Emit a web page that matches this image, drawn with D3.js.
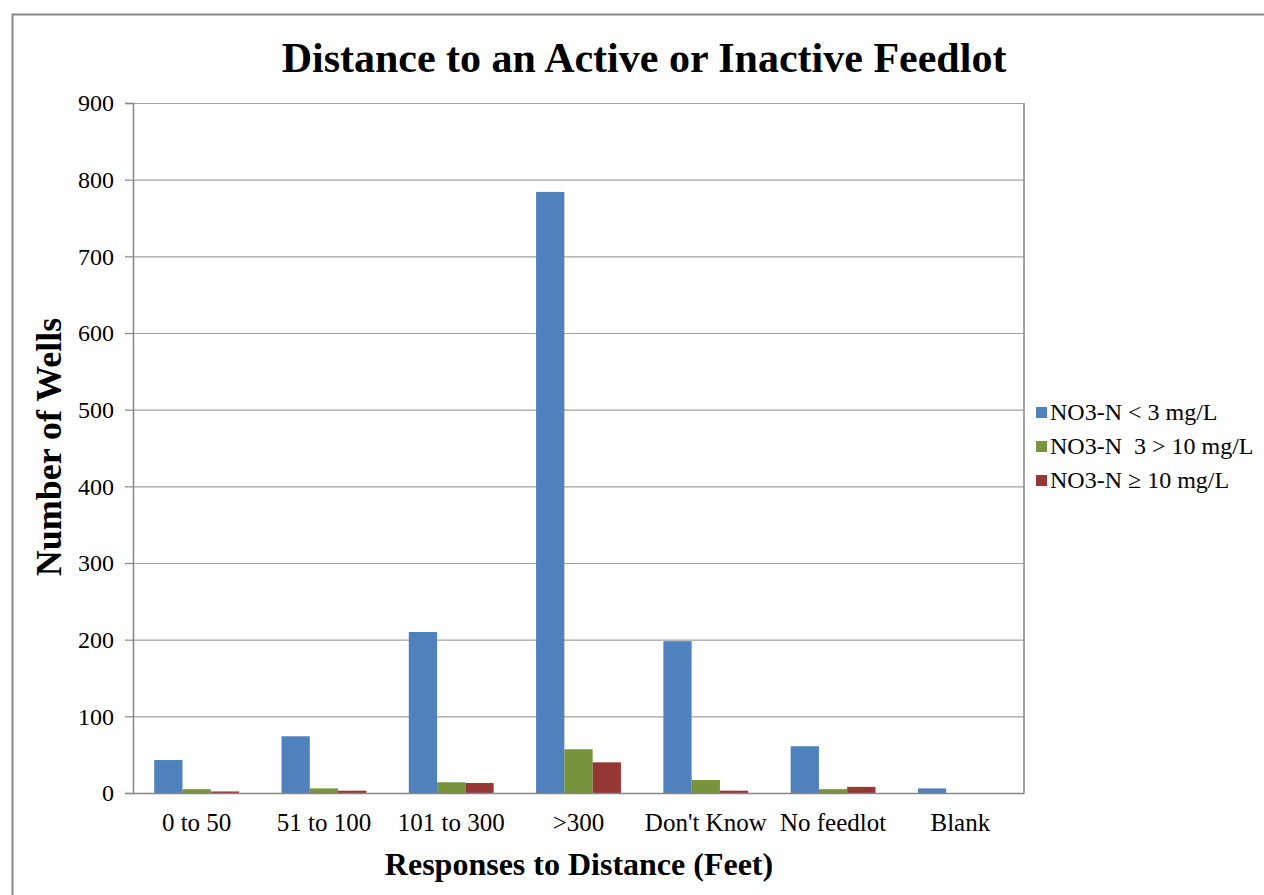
<!DOCTYPE html>
<html>
<head>
<meta charset="utf-8">
<script src="https://cdn.jsdelivr.net/npm/d3@7"></script>
<style>
  body { margin: 0; background: #fff; }
  text { font-family: "Liberation Serif", "Times New Roman", serif; }
</style>
</head>
<body>
<div id="chart"></div>
<script>
var categories = ["0 to 50", "51 to 100", "101 to 300", ">300", "Don't Know", "No feedlot", "Blank"];
var seriesNames = ["NO3-N < 3 mg/L", "NO3-N  3 > 10 mg/L", "NO3-N \u2265 10 mg/L"];
var low = [43, 74, 210, 784, 198, 61, 6];
var mid = [5, 6, 14, 57, 17, 5, 0];
var high = [2, 3, 13, 40, 3, 8, 0];
var yTicks = [0, 100, 200, 300, 400, 500, 600, 700, 800, 900];

var colors = ["#4F81BD", "#77933C", "#953735"];
var seriesVals = [low, mid, high];

var w = 1264, h = 895;
var plotLeft = 133, plotRight = 1024, plotTop = 103, plotBottom = 793;

var svg = d3.select("#chart").append("svg")
    .attr("width", w)
    .attr("height", h);

// outer chart border
svg.append("rect")
    .attr("x", 12.5).attr("y", 14.5)
    .attr("width", 1270).attr("height", 900)
    .attr("fill", "#fff")
    .attr("stroke", "#868686")
    .attr("stroke-width", 2);

var x = d3.scaleBand()
    .domain(categories)
    .range([plotLeft, plotRight]);

var yScale = d3.scaleLinear()
    .domain([0, 900])
    .range([plotBottom, plotTop]);

// gridlines
svg.append("g")
    .attr("class", "grid")
    .attr("transform", "translate(" + plotLeft + ",0)")
    .call(d3.axisLeft(yScale).tickValues(yTicks).tickSize(-(plotRight - plotLeft)).tickFormat(""))
    .call(function(g) {
        g.select(".domain").remove();
        g.selectAll("line").attr("stroke", "#a0a0a0").attr("stroke-width", 1.2);
    });

// right border of plot
svg.append("line")
    .attr("x1", plotRight).attr("x2", plotRight)
    .attr("y1", plotTop).attr("y2", plotBottom)
    .attr("stroke", "#868686").attr("stroke-width", 1.5);

// bars, excel style 150% gap width
var barW = x.bandwidth() / (3 + 1.5);
var groupOffset = (x.bandwidth() - 3 * barW) / 2;

seriesVals.forEach(function(vals, s) {
    svg.append("g")
        .selectAll("rect")
        .data(vals)
        .enter()
        .append("rect")
        .attr("x", function(d, i) { return x(categories[i]) + groupOffset + s * barW; })
        .attr("y", function(d) { return yScale(d); })
        .attr("width", barW)
        .attr("height", function(d) { return plotBottom - yScale(d); })
        .attr("fill", colors[s]);
});

// y axis
var yAxis = svg.append("g")
    .attr("transform", "translate(" + plotLeft + ",0)")
    .call(d3.axisLeft(yScale).tickValues(yTicks).tickSize(8).tickPadding(11));
yAxis.select(".domain").attr("stroke", "#868686").attr("stroke-width", 1.5);
yAxis.selectAll("line").attr("stroke", "#868686").attr("stroke-width", 1.2);
yAxis.selectAll("text")
    .attr("font-size", 24)
    .attr("font-family", "Liberation Serif")
    .attr("fill", "#000");

// x axis
var xAxis = svg.append("g")
    .attr("transform", "translate(0," + plotBottom + ")")
    .call(d3.axisBottom(x).tickSize(0).tickPadding(20));
xAxis.select(".domain").attr("stroke", "#868686").attr("stroke-width", 1.5);
xAxis.selectAll("text")
    .attr("font-size", 25)
    .attr("font-family", "Liberation Serif")
    .attr("fill", "#000");

// title
svg.append("text")
    .attr("x", 644).attr("y", 72)
    .attr("text-anchor", "middle")
    .attr("font-size", 42)
    .attr("font-weight", "bold")
    .text("Distance to an Active or Inactive Feedlot");

// axis titles
svg.append("text")
    .attr("x", 579).attr("y", 875)
    .attr("text-anchor", "middle")
    .attr("font-size", 32)
    .attr("font-weight", "bold")
    .text("Responses to Distance (Feet)");

svg.append("text")
    .attr("transform", "translate(61,447) rotate(-90)")
    .attr("text-anchor", "middle")
    .attr("font-size", 36)
    .attr("font-weight", "bold")
    .text("Number of Wells");

// legend
var legend = svg.append("g").attr("transform", "translate(1036,412)");
seriesNames.forEach(function(name, i) {
    var row = legend.append("g").attr("transform", "translate(0," + (i * 34) + ")");
    row.append("rect")
        .attr("x", 0).attr("y", -5)
        .attr("width", 11).attr("height", 11)
        .attr("fill", colors[i]);
    row.append("text")
        .attr("x", 14).attr("y", 8)
        .attr("font-size", 24)
        .attr("xml:space", "preserve")
        .style("white-space", "pre")
        .text(name);
});
</script>
</body>
</html>
